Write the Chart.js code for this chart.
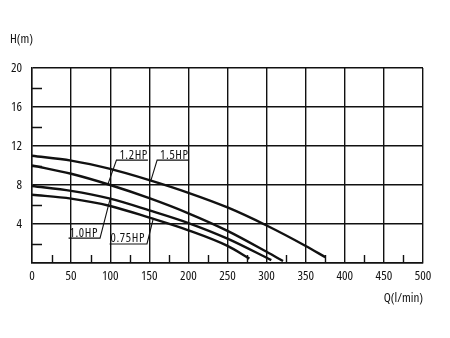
<!DOCTYPE html>
<html>
<head>
<meta charset="utf-8">
<script src="https://cdn.jsdelivr.net/npm/chart.js@4/dist/chart.umd.min.js"></script>
<style>
html,body{margin:0;padding:0;background:#fff;}
#wrap{width:450px;height:338px;}
</style>
</head>
<body>
<div id="wrap"><canvas id="c" width="450" height="338"></canvas></div>
<script>
// ---- data ----
const seriesNames = ["1.5HP", "1.2HP", "1.0HP", "0.75HP"];
const q15 = [0, 50, 100, 150, 200, 250, 300, 350, 375];
const h15 = [11, 10.5, 9.65, 8.5, 7.2, 5.7, 3.85, 1.75, 0.6];
const q12 = [0, 50, 100, 150, 200, 250, 300, 321];
const h12 = [10, 9.15, 8.0, 6.65, 5.1, 3.3, 1.15, 0.2];
const q10 = [0, 50, 100, 150, 200, 250, 306];
const h10 = [7.9, 7.4, 6.6, 5.4, 4.1, 2.5, 0.3];
const q075 = [0, 50, 100, 150, 200, 250, 278];
const h075 = [7.0, 6.6, 5.85, 4.65, 3.35, 1.75, 0.45];
const xTicks = [0, 50, 100, 150, 200, 250, 300, 350, 400, 450, 500];
const yTicks = [0, 4, 8, 12, 16, 20];
const xMinor = [25, 75, 125, 175, 225, 275, 325, 375, 425, 475];
const yMinor = [2, 6, 10, 14, 18];
const xTitle = "Q(l/min)";
const yTitle = "H(m)";

const FAMILY = '"Open Sans", "DejaVu Sans Condensed", sans-serif';
const STRETCH = 'condensed';
const INK = '#111';

function pts(q, h) { return q.map((v, i) => ({x: v, y: h[i]})); }
const qs = [q15, q12, q10, q075];
const hs = [h15, h12, h10, h075];

const datasets = seriesNames.map((n, i) => ({
  label: n,
  data: pts(qs[i], hs[i]),
  borderColor: INK,
  borderWidth: 2.4,
  pointRadius: 0,
  fill: false,
  cubicInterpolationMode: 'monotone'
}));

function hAt(i, q) {
  const Q = qs[i], H = hs[i];
  for (let k = 0; k < Q.length - 1; k++) {
    if (q >= Q[k] && q <= Q[k + 1]) {
      const t = (q - Q[k]) / (Q[k + 1] - Q[k]);
      return H[k] + t * (H[k + 1] - H[k]);
    }
  }
  return H[H.length - 1];
}

// label callouts: series index, anchor Q on curve, label corner (Q,H), side of underline
const callouts = [
  {s: 1, aq: 97, cq: 108, ch: 10.55, dir: 1},
  {s: 0, aq: 152, cq: 160, ch: 10.55, dir: 1},
  {s: 2, aq: 100, cq: 87, ch: 2.55, dir: -1},
  {s: 3, aq: 155, cq: 147, ch: 1.95, dir: -1}
];

const extras = {
  id: 'extras',
  afterDraw(chart) {
    const ctx = chart.ctx;
    const xs = chart.scales.x, ys = chart.scales.y;
    const a = chart.chartArea;
    ctx.save();
    ctx.strokeStyle = INK;
    ctx.lineWidth = 1.4;
    // minor ticks
    ctx.beginPath();
    yMinor.forEach(v => {
      const y = Math.round(ys.getPixelForValue(v)) + 0.5;
      ctx.moveTo(a.left, y); ctx.lineTo(a.left + 10, y);
    });
    xMinor.forEach(v => {
      const x = Math.round(xs.getPixelForValue(v)) + 0.5;
      ctx.moveTo(x, a.bottom); ctx.lineTo(x, a.bottom - 8);
    });
    ctx.stroke();
    // callouts
    ctx.font = STRETCH + ' 12.5px ' + FAMILY;
    if ('letterSpacing' in ctx) ctx.letterSpacing = '0.6px';
    ctx.fillStyle = INK;
    ctx.lineWidth = 1.1;
    callouts.forEach(c => {
      const ax = xs.getPixelForValue(c.aq);
      const ay = ys.getPixelForValue(hAt(c.s, c.aq));
      const cx = xs.getPixelForValue(c.cq);
      const cy = ys.getPixelForValue(c.ch);
      const txt = seriesNames[c.s];
      const w = ctx.measureText(txt).width + 3;
      ctx.beginPath();
      ctx.moveTo(ax, ay); ctx.lineTo(cx, cy);
      ctx.lineTo(cx + c.dir * w, cy);
      ctx.stroke();
      ctx.textBaseline = 'alphabetic';
      ctx.textAlign = 'left';
      const tx = c.dir > 0 ? cx + 3 : cx - w + 1;
      ctx.fillText(txt, tx, cy - 1.5);
    });
    if ('letterSpacing' in ctx) ctx.letterSpacing = '0px';
    // axis titles
    ctx.font = STRETCH + ' 13px ' + FAMILY;
    ctx.textBaseline = 'middle';
    ctx.textAlign = 'left';
    ctx.fillText(yTitle, 10, 39);
    ctx.textAlign = 'right';
    ctx.fillText(xTitle, a.right, 298);
    ctx.restore();
  }
};

const tickFont = {family: FAMILY, size: 13, weight: STRETCH};

new Chart(document.getElementById('c'), {
  type: 'line',
  data: {datasets},
  options: {
    responsive: false,
    animation: false,
    events: [],
    layout: {padding: {left: 0, right: 27, top: 68, bottom: 0}},
    plugins: {legend: {display: false}, tooltip: {enabled: false}},
    scales: {
      x: {
        type: 'linear', min: 0, max: 500,
        afterBuildTicks: s => { s.ticks = xTicks.map(v => ({value: v})); },
        afterFit: s => { s.height = 75; },
        grid: {color: INK, lineWidth: 1.4, drawTicks: false},
        border: {color: INK, width: 1.4},
        ticks: {color: INK, padding: 5, maxRotation: 0, autoSkip: false, font: tickFont}
      },
      y: {
        type: 'linear', min: 0, max: 20,
        afterBuildTicks: s => { s.ticks = yTicks.map(v => ({value: v})); },
        afterFit: s => { s.width = 32; },
        grid: {color: INK, lineWidth: 1.4, drawTicks: false},
        border: {color: INK, width: 1.4},
        ticks: {color: INK, padding: 10, autoSkip: false, font: tickFont,
          callback: v => v === 0 ? '' : String(v)}
      }
    }
  },
  plugins: [extras]
});
</script>
</body>
</html>
